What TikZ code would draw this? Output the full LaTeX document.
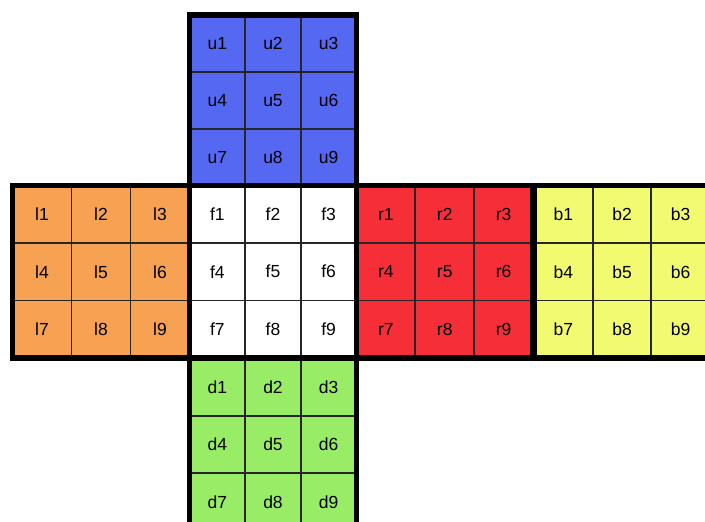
\documentclass[tikz,border=0pt]{standalone}
\usepackage{fontspec}
\setmainfont{Liberation Sans}
\usetikzlibrary{positioning}
\definecolor{cubeblue}{RGB}{84,104,242}
\definecolor{cubeorange}{RGB}{246,162,82}
\definecolor{cubered}{RGB}{246,46,56}
\definecolor{cubeyellow}{RGB}{242,250,112}
\definecolor{cubegreen}{RGB}{152,236,102}
\tikzset{
    sticker/.style={
        draw=black!85,
        line width=1.8pt,
        inner sep=0pt,
        font=\fontsize{17.5}{20}\selectfont
    },
    faceframe/.style={
        draw=black,
        line width=5.5pt
    }
}

\begin{document}
\begin{tikzpicture}[x=1pt,y=-1pt]
	\clip (0,0) rectangle (705,522);
	
	% stickers of every face
	\foreach \fc/\clr/\xa/\ya/\xb/\yb in {
		u/cubeblue/189.5/15/356.5/185.5,
		l/cubeorange/12.5/185.5/189.5/358,
		f/white/189.5/185.5/356.5/358,
		r/cubered/356.5/185.5/533/358,
		b/cubeyellow/534/185.5/710/358,
		d/cubegreen/189.5/358/356.5/531}{
		\pgfmathsetmacro\cw{(\xb-\xa)/3}
		\pgfmathsetmacro\ch{(\yb-\ya)/3}
		\foreach \i in {1,...,9}{
			\pgfmathtruncatemacro\cc{mod(\i-1,3)}
			\pgfmathtruncatemacro\rr{div(\i-1,3)}
			\node[sticker, fill=\clr, minimum width=\cw pt, minimum height=\ch pt]
				(\fc\i) at ({\xa+(\cc+0.5)*\cw},{\ya+(\rr+0.5)*\ch}) {\fc\i};
		}
	}
	
	% thick frames
	\foreach \xa/\ya/\xb/\yb in {
		189.5/15/356.5/185.5,
		12.5/185.5/189.5/358,
		189.5/185.5/356.5/358,
		356.5/185.5/533/358,
		534/185.5/710/358,
		189.5/358/356.5/531}{
		\draw[faceframe] (\xa,\ya) rectangle (\xb,\yb);
	}
\end{tikzpicture}
\end{document}
